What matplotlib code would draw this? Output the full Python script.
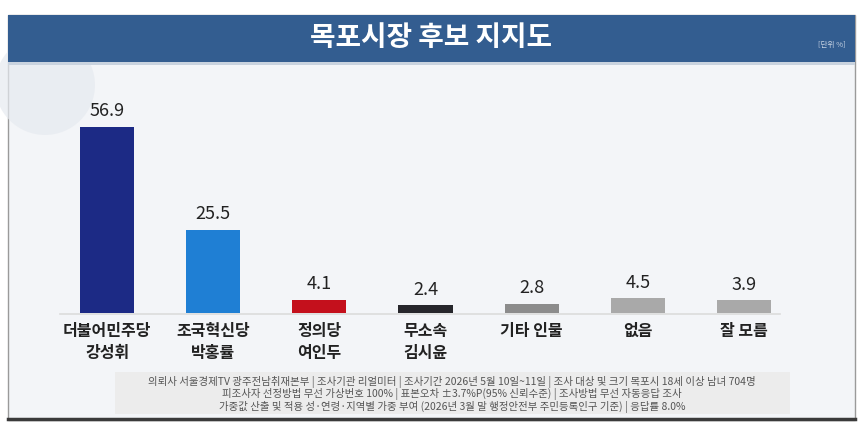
import matplotlib
matplotlib.use("Agg")
import matplotlib.pyplot as plt
from matplotlib.patches import Rectangle, Circle

plt.rcParams['font.family'] = ['Noto Sans CJK KR', 'DejaVu Sans']

categories = ["더불어민주당\n강성휘", "조국혁신당\n박홍률", "정의당\n여인두", "무소속\n김시윤", "기타 인물", "없음", "잘 모름"]
values = [56.9, 25.5, 4.1, 2.4, 2.8, 4.5, 3.9]
colors = ["#1c2a85", "#1f7fd4", "#c4101c", "#26262b", "#8c8c8c", "#a9a9a9", "#a9a9a9"]
title = "목포시장 후보 지지도"
unit = "[단위 %]"
footnote = [
    "의뢰사 서울경제TV 광주전남취재본부 | 조사기관 리얼미터 | 조사기간 2026년 5월 10일~11일 | 조사 대상 및 크기 목포시 18세 이상 남녀 704명",
    "피조사자 선정방법 무선 가상번호 100% | 표본오차 ±3.7%P(95% 신뢰수준) | 조사방법 무선 자동응답 조사",
    "가중값 산출 및 적용 성·연령·지역별 가중 부여 (2026년 3월 말 행정안전부 주민등록인구 기준) | 응답률 8.0%",
]

W, H = 863, 426
fig = plt.figure(figsize=(W / 100, H / 100), dpi=100)
fig.patch.set_facecolor("white")

def fx(px):
    return px / W

def fy(py):
    return 1 - py / H

# background panel
bg = fig.add_axes([0, 0, 1, 1], zorder=0)
bg.set_xlim(0, W)
bg.set_ylim(H, 0)
bg.axis("off")
bg.add_patch(Rectangle((8, 15), 847, 405, facecolor="#f3f5f8", edgecolor="#9a9a9a", lw=1))
bg.add_patch(Circle((45, 85), 50, facecolor="#e6eaf0", edgecolor="none", alpha=0.7))
# header band
bg.add_patch(Rectangle((8, 15), 847, 47, facecolor="#335d90", edgecolor="none"))
bg.add_patch(Rectangle((8, 62), 847, 3, facecolor="#c9d3df", edgecolor="none"))
bg.text(431, 38, title, color="white", fontsize=20, fontweight="bold", ha="center", va="center")
bg.text(832, 45, unit, color="#c8d4e4", fontsize=5.5, ha="center", va="center")
# baseline
bg.plot([60, 780], [313.5, 313.5], color="#dcdcdc", lw=1.2, zorder=1)
# footer box
bg.add_patch(Rectangle((115, 372), 675, 42, facecolor="#ececec", edgecolor="none"))
for i, line in enumerate(footnote):
    bg.text(452, 382 + i * 12.5, line, color="#555555", fontsize=7.5, ha="center", va="center")
bg.plot([8, 855], [419, 419], color="#3a3a3a", lw=2.5)

# bar axes
x0, x1 = 54, 797
ybase, ytop = 313, 65
ax = fig.add_axes([fx(x0), fy(ybase), fx(x1 - x0), (ybase - ytop) / H], zorder=2)
ax.patch.set_alpha(0)
xs = list(range(len(values)))
ax.bar(xs, values, width=0.51, color=colors)
ax.set_xlim(-0.5, len(values) - 0.5)
ax.set_ylim(0, 248 / 3.27)
for x, v in zip(xs, values):
    ax.text(x, v + 2.0, f"{v:.1f}", ha="center", va="bottom", fontsize=13, color="#222222")
ax.set_xticks(xs)
ax.set_xticklabels(categories, fontsize=11.5, fontweight="bold", color="#222222", linespacing=1.45, va="top")
ax.tick_params(axis="x", length=0, pad=7)
ax.set_yticks([])
for s in ax.spines.values():
    s.set_visible(False)

fig.savefig("out.png", dpi=100)
